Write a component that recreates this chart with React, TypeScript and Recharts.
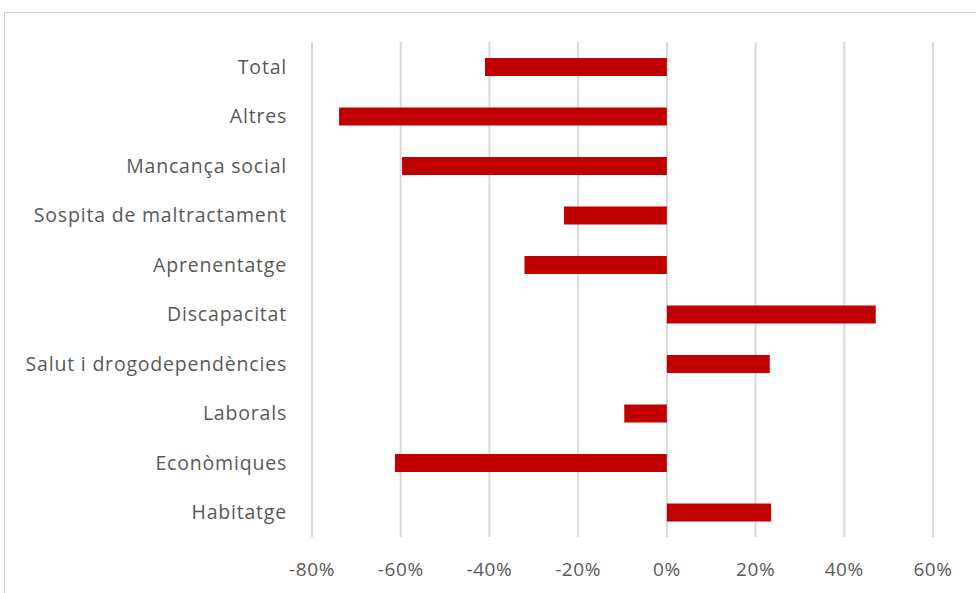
import { BarChart, Bar, CartesianGrid, XAxis, YAxis } from "recharts";

const categories = [
  "Total",
  "Altres",
  "Mancança social",
  "Sospita de maltractament",
  "Aprenentatge",
  "Discapacitat",
  "Salut i drogodependències",
  "Laborals",
  "Econòmiques",
  "Habitatge",
];

const variation = [-0.41, -0.739, -0.597, -0.232, -0.321, 0.471, 0.232, -0.096, -0.613, 0.235];

const xTicks = [-0.8, -0.6, -0.4, -0.2, 0, 0.2, 0.4, 0.6];

const data = categories.map((name, i) => ({ name, value: variation[i] }));

const font = "'Open Sans', sans-serif";

export default function App() {
  return (
    <div
      style={{
        position: "fixed",
        left: 0,
        top: 0,
        width: 976,
        height: 593,
        overflow: "hidden",
        background: "#fff",
      }}
    >
      <div
        style={{
          position: "absolute",
          left: 4,
          top: 12,
          width: 1100,
          height: 700,
          border: "1px solid #d0d0d0",
        }}
      />
      <div style={{ position: "absolute", left: 0, top: 0 }}>
        <BarChart
          width={976}
          height={593}
          data={data}
          layout="vertical"
          margin={{ top: 42, right: 43, bottom: 26, left: 0 }}
        >
          <CartesianGrid horizontal={false} stroke="#d9d9d9" strokeWidth={2} />
          <XAxis
            type="number"
            domain={[-0.8, 0.6]}
            ticks={xTicks}
            interval={0}
            axisLine={false}
            tickLine={false}
            tickMargin={20}
            tick={{ fill: "#595959", fontSize: 19, fontFamily: font, letterSpacing: 0.6 }}
            tickFormatter={(v: number) => `${Math.round(v * 100)}%`}
          />
          <YAxis
            type="category"
            dataKey="name"
            width={312}
            axisLine={false}
            tickLine={false}
            tickMargin={19}
            tick={{ fill: "#595959", fontSize: 19.5, fontFamily: font, letterSpacing: 0.8 }}
          />
          <Bar dataKey="value" fill="#c00000" barSize={18} isAnimationActive={false} />
        </BarChart>
      </div>
    </div>
  );
}
